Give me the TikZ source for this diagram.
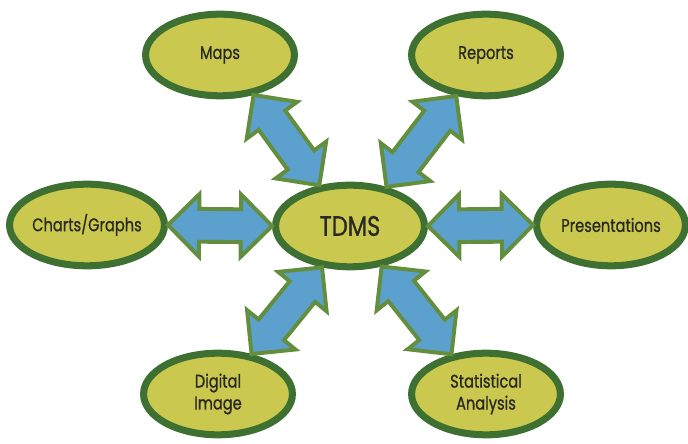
\documentclass[tikz,border=0pt]{standalone}
\usepackage{fontspec}
\setmainfont{Poppins}[FakeStretch=0.8,FakeBold=0.8]
\usetikzlibrary{shapes.geometric,calc}

\definecolor{ellipsefill}{RGB}{202,200,78}
\definecolor{ellipseline}{RGB}{62,112,50}
\definecolor{arrowfill}{RGB}{92,160,206}
\definecolor{arrowline}{RGB}{98,142,62}
\definecolor{labeltext}{RGB}{40,40,36}

\begin{document}
\begin{tikzpicture}[x=0.025cm,y=-0.025cm]

  \tikzstyle{concept}=[shape=ellipse, draw=ellipseline, fill=ellipsefill, line width=5pt, minimum width=3.72cm, minimum height=2.04cm, inner sep=0pt, align=center, text=labeltext, font=\fontsize{13}{15.6}\selectfont]
  \tikzstyle{connection}=[draw=arrowline, fill=arrowfill, line width=2.8pt, line join=miter]

  \useasboundingbox (0,0) rectangle (688,444);

  \node [concept] (tdms) at (350,226) {\fontsize{20}{24}\selectfont TDMS};
  \node [concept] (maps) at (220,55) {Maps};
  \node [concept] (reports) at (486,55) {Reports};
  \node [concept] (charts) at (87,225) {Charts/Graphs};
  \node [concept] (pres) at (611,225) {Presentations};
  \node [concept] (digital) at (218,394) {Digital\\Image};
  \node [concept] (stat) at (486,394) {Statistical\\Analysis};

  % block arrows, both ends pointed
  \foreach \from/\to in {maps.-50/tdms.127, reports.234/tdms.47, charts.east/tdms.west,
                         tdms.east/pres.west, digital.50/tdms.236, stat.131/tdms.308}
    \draw[connection] (\from)
      -- ($(\from)!0.78cm!(\to)!0.78cm!90:(\to)$)
      -- ($(\from)!0.78cm!(\to)!0.41cm!90:(\to)$)
      -- ($(\to)!0.78cm!(\from)!0.41cm!-90:(\from)$)
      -- ($(\to)!0.78cm!(\from)!0.78cm!-90:(\from)$)
      -- (\to)
      -- ($(\to)!0.78cm!(\from)!0.78cm!90:(\from)$)
      -- ($(\to)!0.78cm!(\from)!0.41cm!90:(\from)$)
      -- ($(\from)!0.78cm!(\to)!0.41cm!-90:(\to)$)
      -- ($(\from)!0.78cm!(\to)!0.78cm!-90:(\to)$)
      -- cycle;
\end{tikzpicture}
\end{document}
